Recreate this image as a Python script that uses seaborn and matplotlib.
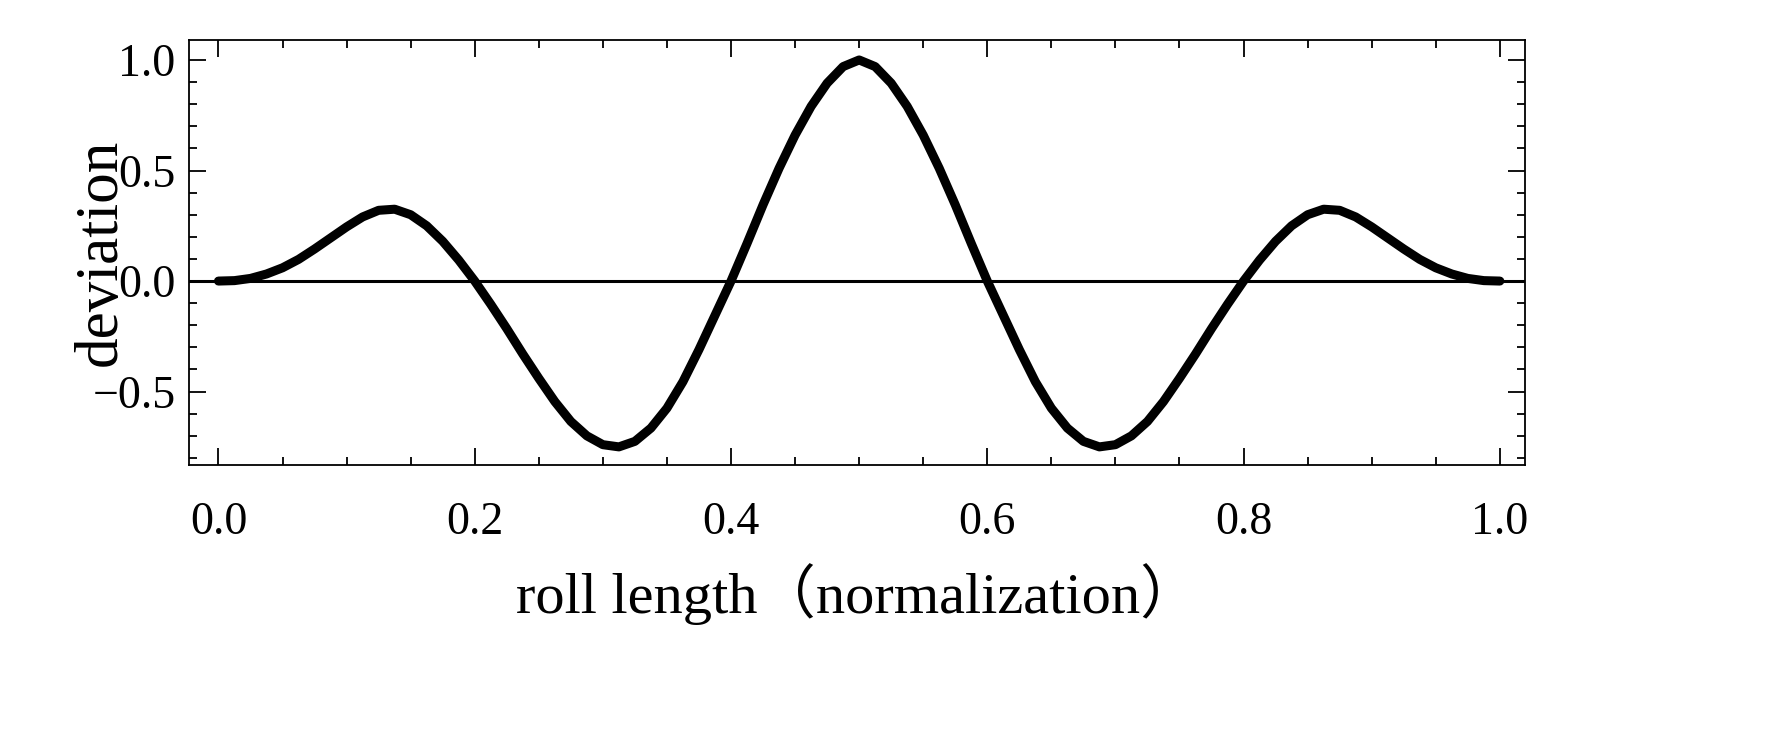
import numpy as np
import pandas as pd
import matplotlib
matplotlib.use('Agg')
import matplotlib.pyplot as plt
import seaborn as sns
from matplotlib.ticker import MultipleLocator

#---------------------------------------------------------
# values (symmetric about 0.5)
x_half=[0.0, 0.0125, 0.025, 0.0375, 0.05, 0.0625, 0.075, 0.0875, 0.1, 0.1125,
	0.125, 0.1375, 0.15, 0.1625, 0.175, 0.1875, 0.2, 0.2125, 0.225, 0.2375,
	0.25, 0.2625, 0.275, 0.2875, 0.3, 0.3125, 0.325, 0.3375, 0.35, 0.3625,
	0.375, 0.3875, 0.4, 0.4125, 0.425, 0.4375, 0.45, 0.4625, 0.475, 0.4875, 0.5]
y_half=[0.000, 0.002, 0.012, 0.032, 0.060, 0.098, 0.145, 0.195, 0.245, 0.290,
	0.320, 0.325, 0.300, 0.250, 0.180, 0.095, 0.000, -0.105, -0.215, -0.330,
	-0.440, -0.545, -0.635, -0.700, -0.740, -0.750, -0.725, -0.665, -0.575, -0.455,
	-0.310, -0.155, 0.000, 0.170, 0.345, 0.510, 0.660, 0.790, 0.895, 0.970, 1.000]
x_ticks=[0.0, 0.2, 0.4, 0.6, 0.8, 1.0]
y_ticks=[-0.5, 0.0, 0.5, 1.0]

x=x_half+[1-v for v in x_half[-2::-1]]
y=y_half+y_half[-2::-1]
df=pd.DataFrame({'x':x, 'y':y})

#--------------------------------------------------------
sns.set_style('ticks')
plt.rcParams['font.family']=['Liberation Serif', 'Noto Sans CJK SC']
plt.rcParams['text.color']='black'
plt.rcParams['xtick.color']='black'
plt.rcParams['ytick.color']='black'
plt.rcParams['axes.labelcolor']='black'

fig=plt.figure(figsize=(17.71, 7.42), dpi=100)
ax=fig.add_axes([0.107, 0.373, 0.754, 0.573])
sns.lineplot(x='x', y='y', data=df, ax=ax, color='black', linewidth=6.5, sort=False)
ax.axhline(0, color='black', linewidth=2.2, zorder=1)

ax.set_xlim(-0.0226, 1.0195)
ax.set_ylim(-0.833, 1.09)
ax.set_xticks(x_ticks)
ax.set_yticks(y_ticks)
ax.set_xticklabels([f'{v:.1f}' for v in x_ticks])
ax.set_yticklabels([f'{v:.1f}'.replace('-', '\u2212') for v in y_ticks])
ax.xaxis.set_minor_locator(MultipleLocator(0.05))
ax.yaxis.set_minor_locator(MultipleLocator(0.1))
ax.tick_params(which='both', direction='in', top=True, right=True, width=1.3, labelsize=33)
ax.tick_params(which='major', length=12)
ax.tick_params(which='minor', length=6)
ax.tick_params(axis='x', pad=26)
ax.tick_params(axis='y', pad=10)
for s in ax.spines.values():
	s.set_linewidth(1.3)
	s.set_color('black')

ax.set_xlabel('roll length（normalization）', fontsize=42, labelpad=14)
ax.set_ylabel('deviation', fontsize=44, labelpad=-26)

plt.savefig('out.png', dpi=100)
plt.close()
